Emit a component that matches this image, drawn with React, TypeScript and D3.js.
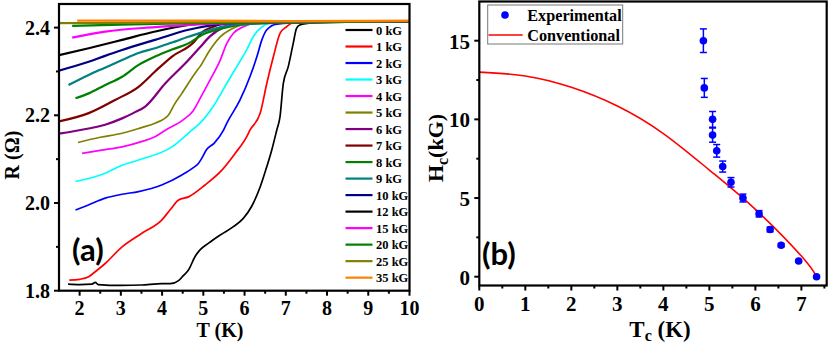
import React, { useEffect, useRef } from "react";
import * as d3 from "d3";

// ---- panel (a): R vs T for several fields ----
const fieldLabels = ["0 kG", "1 kG", "2 kG", "3 kG", "4 kG", "5 kG", "6 kG", "7 kG", "8 kG", "9 kG", "10 kG", "12 kG", "15 kG", "20 kG", "25 kG", "35 kG"];
const fieldColors = ["#000000", "#ff0000", "#0000ff", "#00ffff", "#ff00ff", "#808000", "#800080", "#800000", "#008000", "#008080", "#000080", "#000000", "#ff00ff", "#008000", "#808000", "#ff8000"];

const curve0kG = [[1.72, 1.815], [2.0, 1.814], [2.3, 1.815], [2.38, 1.819], [2.45, 1.814], [3.0, 1.812], [3.5, 1.813], [4.0, 1.816], [4.2, 1.816], [4.4, 1.823], [4.52, 1.835], [4.64, 1.847], [4.8, 1.878], [4.92, 1.893], [5.12, 1.908], [5.41, 1.927], [5.73, 1.946], [5.97, 1.965], [6.17, 1.992], [6.38, 2.037], [6.54, 2.083], [6.66, 2.121], [6.78, 2.166], [6.86, 2.197], [6.94, 2.273], [7.06, 2.311], [7.18, 2.364], [7.26, 2.398], [7.34, 2.406], [7.67, 2.411], [8.2, 2.413], [10, 2.414]];
const curve1kG = [[1.75, 1.824], [2.0, 1.826], [2.22, 1.832], [2.4, 1.845], [2.62, 1.862], [3.03, 1.9], [3.51, 1.931], [3.99, 1.961], [4.2, 1.985], [4.4, 2.007], [4.64, 2.014], [5.04, 2.041], [5.45, 2.075], [5.77, 2.113], [6.05, 2.151], [6.13, 2.166], [6.38, 2.205], [6.54, 2.273], [6.7, 2.334], [6.86, 2.387], [7.02, 2.402], [7.18, 2.411], [8, 2.413], [10, 2.414]];
const curve2kG = [[1.9, 1.984], [2.2, 1.995], [2.62, 2.011], [3.03, 2.02], [3.43, 2.026], [3.99, 2.041], [4.48, 2.064], [4.75, 2.08], [4.88, 2.09], [4.95, 2.1], [5.08, 2.122], [5.26, 2.136], [5.49, 2.166], [5.57, 2.182], [5.89, 2.235], [6.13, 2.288], [6.3, 2.334], [6.42, 2.372], [6.54, 2.395], [6.78, 2.408], [7.5, 2.412], [10, 2.414]];
const curve3kG = [[1.9, 2.049], [2.62, 2.068], [3.0, 2.085], [3.43, 2.098], [4.24, 2.128], [4.72, 2.166], [4.92, 2.182], [5.24, 2.22], [5.57, 2.273], [5.81, 2.311], [6.05, 2.349], [6.21, 2.379], [6.38, 2.398], [6.62, 2.41], [7.5, 2.412], [10, 2.414]];
const curve4kG = [[2.06, 2.113], [2.5, 2.12], [3.03, 2.128], [3.5, 2.14], [3.83, 2.151], [4.08, 2.166], [4.5, 2.189], [4.75, 2.21], [4.92, 2.238], [5.16, 2.28], [5.41, 2.326], [5.57, 2.364], [5.73, 2.387], [5.97, 2.402], [6.3, 2.411], [7.5, 2.413], [10, 2.414]];
const curve5kG = [[1.96, 2.138], [2.5, 2.15], [3.03, 2.159], [3.5, 2.172], [3.83, 2.182], [4.15, 2.2], [4.3, 2.225], [4.48, 2.25], [4.8, 2.296], [4.92, 2.311], [5.16, 2.349], [5.41, 2.379], [5.65, 2.395], [5.97, 2.406], [7, 2.412], [10, 2.414]];
const curve6kG = [[1.5, 2.158], [2.22, 2.17], [2.6, 2.178], [3.03, 2.193], [3.3, 2.205], [3.59, 2.22], [4.08, 2.273], [4.64, 2.326], [4.92, 2.355], [5.16, 2.38], [5.49, 2.4], [5.81, 2.408], [7, 2.412], [10, 2.414]];
const curve7kG = [[1.5, 2.186], [2.22, 2.205], [2.86, 2.235], [3.43, 2.265], [3.83, 2.3], [4.24, 2.334], [4.8, 2.37], [4.92, 2.385], [5.24, 2.402], [5.57, 2.41], [7, 2.413], [10, 2.414]];
const curve8kG = [[1.9, 2.239], [2.22, 2.25], [2.6, 2.268], [3.03, 2.288], [3.43, 2.315], [3.83, 2.334], [4.24, 2.35], [4.64, 2.364], [5.0, 2.385], [5.45, 2.398], [6, 2.408], [7, 2.412], [10, 2.414]];
const curve9kG = [[1.73, 2.269], [2.22, 2.292], [2.6, 2.308], [3.03, 2.326], [3.43, 2.342], [3.83, 2.353], [4.24, 2.366], [4.64, 2.379], [5.45, 2.402], [6, 2.409], [10, 2.414]];
const curve10kG = [[1.5, 2.302], [2.22, 2.322], [2.6, 2.335], [3.03, 2.349], [3.83, 2.372], [4.64, 2.395], [5.45, 2.408], [6.5, 2.412], [10, 2.414]];
const curve12kG = [[1.5, 2.337], [2.22, 2.353], [3.03, 2.372], [3.83, 2.391], [4.64, 2.406], [5.2, 2.411], [10, 2.414]];
const curve15kG = [[1.82, 2.377], [2.62, 2.391], [3.83, 2.401], [5.04, 2.408], [6, 2.411], [10, 2.414]];
const curve20kG = [[1.82, 2.404], [3, 2.407], [5, 2.41], [7, 2.412], [10, 2.414]];
const curve25kG = [[1.5, 2.41], [3, 2.411], [6, 2.413], [10, 2.415]];
const curve35kG = [[1.94, 2.416], [4, 2.416], [7, 2.415], [10, 2.416]];

const rtCurves = [curve0kG, curve1kG, curve2kG, curve3kG, curve4kG, curve5kG, curve6kG, curve7kG, curve8kG, curve9kG, curve10kG, curve12kG, curve15kG, curve20kG, curve25kG, curve35kG];

const tempTicks = [2, 3, 4, 5, 6, 7, 8, 9, 10];
const tempMinor = [2.5, 3.5, 4.5, 5.5, 6.5, 7.5, 8.5, 9.5];
const resTicks = [1.8, 2.0, 2.2, 2.4];
const resMinor = [1.9, 2.1, 2.3];

// ---- panel (b): Hc vs Tc ----
const tcValues = [4.87, 4.89, 5.07, 5.07, 5.16, 5.29, 5.47, 5.73, 6.08, 6.32, 6.56, 6.94, 7.33];
const hcValues = [15, 12, 10, 9, 8, 7, 6, 5, 4, 3, 2, 1, 0];
const hcErrors = [0.75, 0.6, 0.5, 0.45, 0.4, 0.35, 0.3, 0.25, 0.2, 0.15, 0.1, 0.05, 0];
const convT = [0, 1, 2, 3, 4, 5, 6, 7, 7.33];
const convH = [13.0, 12.76, 12.04, 10.85, 9.1, 6.78, 4.28, 1.31, 0];

const tcTicks = [0, 1, 2, 3, 4, 5, 6, 7];
const tcMinor = [0.5, 1.5, 2.5, 3.5, 4.5, 5.5, 6.5, 7.5];
const hcTicks = [0, 5, 10, 15];
const hcMinor = [2.5, 7.5, 12.5];

const serif = "'Liberation Serif', 'Times New Roman', serif";

export default function App() {
  const ref = useRef<SVGSVGElement>(null);

  useEffect(() => {
    const svg = d3.select(ref.current);
    svg.selectAll("*").remove();

    // ===== panel (a) =====
    const a = { left: 59, right: 409.5, top: 4, bottom: 290.7 };
    const xA = d3.scaleLinear().domain([1.5, 10]).range([a.left, a.right]);
    const yA = d3.scaleLinear().domain([1.8, 2.4]).range([a.bottom, 27.6]);

    svg.append("clipPath").attr("id", "clipA")
      .append("rect").attr("x", a.left).attr("y", a.top)
      .attr("width", a.right - a.left).attr("height", a.bottom - a.top);

    const lineA = d3.line<number[]>()
      .x((d) => xA(d[0]))
      .y((d) => yA(d[1]))
      .curve(d3.curveMonotoneX);

    const gA = svg.append("g").attr("clip-path", "url(#clipA)");
    rtCurves.forEach((c, i) => {
      gA.append("path")
        .attr("d", lineA(c))
        .attr("fill", "none")
        .attr("stroke", fieldColors[i])
        .attr("stroke-width", i >= 6 ? 2.2 : 1.7)
        .attr("stroke-linejoin", "round");
    });

    // ticks a
    const tA = svg.append("g").attr("stroke", "#000");
    tempTicks.forEach((t) => {
      tA.append("line").attr("x1", xA(t)).attr("x2", xA(t)).attr("y1", a.bottom).attr("y2", a.bottom + 5).attr("stroke-width", 2);
    });
    tempMinor.forEach((t) => {
      tA.append("line").attr("x1", xA(t)).attr("x2", xA(t)).attr("y1", a.bottom).attr("y2", a.bottom + 3).attr("stroke-width", 2);
    });
    resTicks.forEach((r) => {
      tA.append("line").attr("x1", a.left - 5).attr("x2", a.left).attr("y1", yA(r)).attr("y2", yA(r)).attr("stroke-width", 2);
    });
    resMinor.forEach((r) => {
      tA.append("line").attr("x1", a.left - 3).attr("x2", a.left).attr("y1", yA(r)).attr("y2", yA(r)).attr("stroke-width", 2);
    });

    svg.append("rect")
      .attr("x", a.left).attr("y", a.top)
      .attr("width", a.right - a.left).attr("height", a.bottom - a.top)
      .attr("fill", "none").attr("stroke", "#000").attr("stroke-width", 2.2);

    const labA = svg.append("g").attr("font-family", serif).attr("font-weight", "bold").attr("fill", "#000");
    tempTicks.forEach((t) => {
      labA.append("text").attr("x", xA(t)).attr("y", 315).attr("text-anchor", "middle").attr("font-size", 20).text(String(t));
    });
    resTicks.forEach((r) => {
      labA.append("text").attr("x", 50).attr("y", yA(r) + 7).attr("text-anchor", "end").attr("font-size", 20).text(r.toFixed(1));
    });
    labA.append("text").attr("x", 220).attr("y", 337).attr("text-anchor", "middle").attr("font-size", 20).text("T (K)");
    labA.append("text").attr("transform", "translate(19,155) rotate(-90)").attr("text-anchor", "middle").attr("font-size", 20).text("R (\u03A9)");

    // legend a
    const legA = svg.append("g");
    fieldLabels.forEach((lab, i) => {
      const y = 30 + i * 16.51;
      legA.append("line").attr("x1", 345.5).attr("x2", 372.5).attr("y1", y).attr("y2", y)
        .attr("stroke", fieldColors[i]).attr("stroke-width", 2.2);
      legA.append("text").attr("x", 376).attr("y", y + 4.5)
        .attr("font-family", serif).attr("font-weight", "bold").attr("font-size", 12.5).text(lab);
    });

    svg.append("text").attr("x", 72).attr("y", 261)
      .attr("font-family", "Lato, 'Open Sans', sans-serif").attr("font-weight", "bold").attr("font-size", 31)
      .text("(a)");

    // ===== panel (b) =====
    const b = { left: 479.3, right: 826.7, top: 1.5, bottom: 285.5 };
    const xB = d3.scaleLinear().domain([0, 7.55]).range([b.left, b.right]);
    const yB = d3.scaleLinear().domain([0, 15]).range([276.7, 40.7]);

    svg.append("clipPath").attr("id", "clipB")
      .append("rect").attr("x", b.left).attr("y", b.top)
      .attr("width", b.right - b.left).attr("height", b.bottom - b.top);

    const convPts = convT.map((t, i) => [t, convH[i]]);
    const lineB = d3.line<number[]>().x((d) => xB(d[0])).y((d) => yB(d[1])).curve(d3.curveNatural);
    svg.append("g").attr("clip-path", "url(#clipB)")
      .append("path").attr("d", lineB(convPts))
      .attr("fill", "none").attr("stroke", "#ff0000").attr("stroke-width", 1.6);

    const gB = svg.append("g");
    tcValues.forEach((t, i) => {
      const cx = xB(t);
      const e = hcErrors[i];
      if (e > 0) {
        const y1 = yB(hcValues[i] + e);
        const y2 = yB(hcValues[i] - e);
        gB.append("line").attr("x1", cx).attr("x2", cx).attr("y1", y1).attr("y2", y2).attr("stroke", "#0000ff").attr("stroke-width", 1.5);
        gB.append("line").attr("x1", cx - 3.5).attr("x2", cx + 3.5).attr("y1", y1).attr("y2", y1).attr("stroke", "#0000ff").attr("stroke-width", 1.5);
        gB.append("line").attr("x1", cx - 3.5).attr("x2", cx + 3.5).attr("y1", y2).attr("y2", y2).attr("stroke", "#0000ff").attr("stroke-width", 1.5);
      }
      gB.append("circle").attr("cx", cx).attr("cy", yB(hcValues[i])).attr("r", 3.8).attr("fill", "#0000ff");
    });

    const tB = svg.append("g").attr("stroke", "#000");
    tcTicks.forEach((t) => {
      tB.append("line").attr("x1", xB(t)).attr("x2", xB(t)).attr("y1", b.bottom).attr("y2", b.bottom + 5).attr("stroke-width", 2);
    });
    tcMinor.forEach((t) => {
      tB.append("line").attr("x1", xB(t)).attr("x2", xB(t)).attr("y1", b.bottom).attr("y2", b.bottom + 3).attr("stroke-width", 2);
    });
    hcTicks.forEach((h) => {
      tB.append("line").attr("x1", b.left - 5).attr("x2", b.left).attr("y1", yB(h)).attr("y2", yB(h)).attr("stroke-width", 2);
    });
    hcMinor.forEach((h) => {
      tB.append("line").attr("x1", b.left - 3).attr("x2", b.left).attr("y1", yB(h)).attr("y2", yB(h)).attr("stroke-width", 2);
    });

    svg.append("rect")
      .attr("x", b.left).attr("y", b.top)
      .attr("width", b.right - b.left).attr("height", b.bottom - b.top)
      .attr("fill", "none").attr("stroke", "#000").attr("stroke-width", 2.2);

    const labB = svg.append("g").attr("font-family", serif).attr("font-weight", "bold").attr("fill", "#000");
    tcTicks.forEach((t) => {
      labB.append("text").attr("x", xB(t)).attr("y", 311).attr("text-anchor", "middle").attr("font-size", 21).text(String(t));
    });
    hcTicks.forEach((h) => {
      labB.append("text").attr("x", 470).attr("y", yB(h) + 8).attr("text-anchor", "end").attr("font-size", 21).text(String(h));
    });
    const tcTitle = labB.append("text").attr("x", 660).attr("y", 337).attr("text-anchor", "middle").attr("font-size", 23);
    tcTitle.append("tspan").text("T");
    tcTitle.append("tspan").attr("font-size", 16).attr("dy", 4).text("c");
    tcTitle.append("tspan").attr("dy", -4).text(" (K)");

    const hcTitle = labB.append("text").attr("transform", "translate(443,148) rotate(-90)").attr("text-anchor", "middle").attr("font-size", 22);
    hcTitle.append("tspan").text("H");
    hcTitle.append("tspan").attr("font-size", 16).attr("dy", 5).text("c");
    hcTitle.append("tspan").attr("dy", -5).text("(kG)");

    // legend b
    const legB = svg.append("g");
    legB.append("rect").attr("x", 487.7).attr("y", 5).attr("width", 135).attr("height", 39)
      .attr("fill", "#fff").attr("stroke", "#777").attr("stroke-width", 1);
    legB.append("circle").attr("cx", 505).attr("cy", 15).attr("r", 3.8).attr("fill", "#0000ff");
    legB.append("line").attr("x1", 488.5).attr("x2", 522.7).attr("y1", 35).attr("y2", 35).attr("stroke", "#ff0000").attr("stroke-width", 1.6);
    legB.append("text").attr("x", 527.3).attr("y", 20.5).attr("font-family", serif).attr("font-weight", "bold").attr("font-size", 16.2).text("Experimental");
    legB.append("text").attr("x", 527.3).attr("y", 40.5).attr("font-family", serif).attr("font-weight", "bold").attr("font-size", 16.2).text("Conventional");

    svg.append("text").attr("x", 482).attr("y", 265)
      .attr("font-family", "Lato, 'Open Sans', sans-serif").attr("font-weight", "bold").attr("font-size", 31)
      .text("(b)");
  }, []);

  return (
    <svg ref={ref} width={831} height={346} style={{ position: "absolute", left: 0, top: 0, background: "#fff" }} />
  );
}
